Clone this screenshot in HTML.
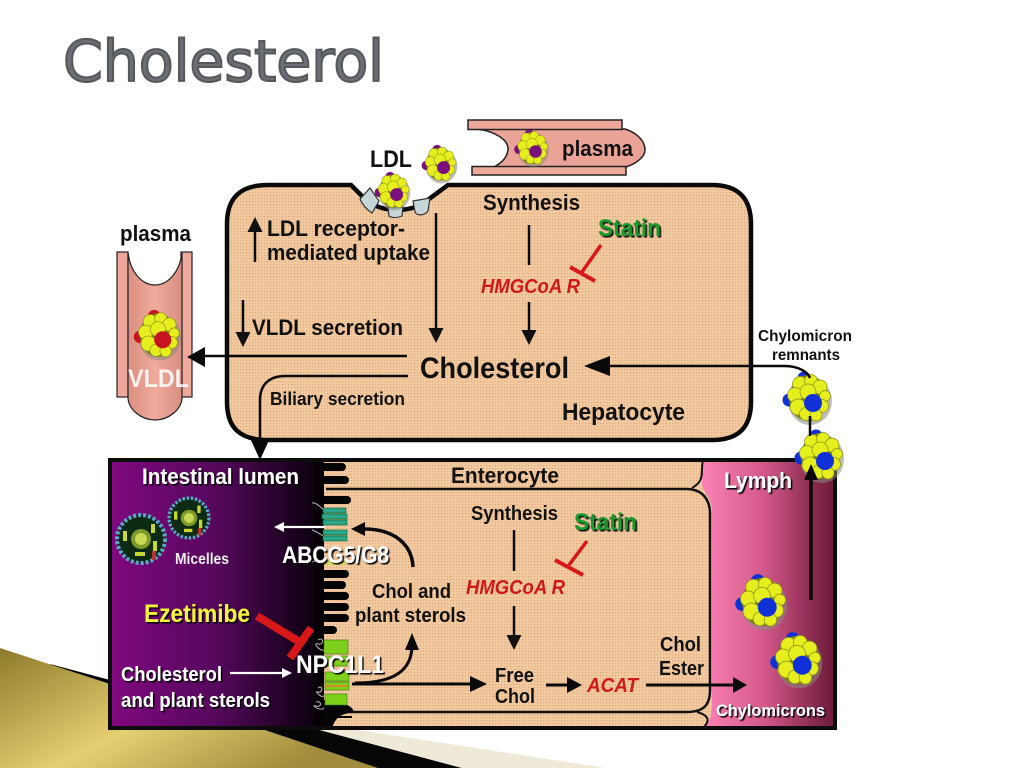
<!DOCTYPE html>
<html><head><meta charset="utf-8"><title>Cholesterol</title>
<style>
html,body{margin:0;padding:0;background:#fff}
svg{display:block}
text{font-family:"Liberation Sans",sans-serif;font-weight:bold;fill:#111}
.w{fill:#fff}
.r{fill:#d01818;font-style:italic}
.g{fill:#159a2c}
</style></head><body>
<svg width="1024" height="768" viewBox="0 0 1024 768" xmlns="http://www.w3.org/2000/svg">
<defs>
<pattern id="d" width="3" height="3" patternUnits="userSpaceOnUse"><rect width="3" height="3" fill="#f3c99f"/><rect width="1.2" height="1.2" fill="#d9a97c"/></pattern>
<linearGradient id="pur" x1="0" x2="1" y1="0" y2="0"><stop offset="0" stop-color="#80087f"/><stop offset=".5" stop-color="#55085c"/><stop offset="1" stop-color="#050008"/></linearGradient>
<linearGradient id="lym" x1="0" x2="1" y1="0" y2="0"><stop offset="0" stop-color="#fb82b4"/><stop offset=".45" stop-color="#d65a8c"/><stop offset="1" stop-color="#6a1838"/></linearGradient>
<linearGradient id="gold" x1="0" x2="1" y1="0" y2=".6"><stop offset="0" stop-color="#8d7a2a"/><stop offset=".55" stop-color="#e6cf72"/><stop offset="1" stop-color="#a08c3c"/></linearGradient>
<linearGradient id="ves" x1="0" x2="1" y1="0" y2="0"><stop offset="0" stop-color="#d98e80"/><stop offset=".5" stop-color="#f0aa9c"/><stop offset="1" stop-color="#d98e80"/></linearGradient>
<marker id="a" markerWidth="6" markerHeight="6" refX="4" refY="3" orient="auto"><path d="M0 0L6 3L0 6z" fill="#111"/></marker>
<filter id="s" x="-10%" y="-20%" width="125%" height="150%"><feDropShadow dx="1.5" dy="1.5" stdDeviation=".6" flood-color="#000"/></filter>
<g id="p">
<ellipse cx="2" cy="3" rx="22" ry="24" fill="#8a8a80" opacity=".55"/>
<circle cx="-4" cy="-20" r="6.500" fill="currentColor"/><circle cx="-19" cy="2" r="6.500" fill="currentColor"/>
<ellipse cx="0" cy="0" rx="19" ry="23" fill="#7c8214"/>
<g fill="#e6ee1e" stroke="#8a9018" stroke-width=".7">
<circle cx="-8" cy="-14" r="7.500"/><circle cx="3" cy="-17" r="6.500"/><circle cx="12" cy="-11" r="7"/><circle cx="17" cy="-2" r="5.500"/>
<circle cx="-13" cy="-3" r="7.500"/><circle cx="0" cy="-6" r="8"/><circle cx="-10" cy="9" r="8"/><circle cx="14" cy="8" r="6.500"/>
<circle cx="-2" cy="16" r="6.500"/><circle cx="8" cy="17" r="6"/></g>
<circle cx="5" cy="5" r="9" fill="currentColor"/>
</g>
<g id="m">
<circle r="24" fill="#0d2a14" stroke="#58a8c8" stroke-width="4" stroke-dasharray="3 2"/>
<circle r="10" fill="#7f9a2a"/>
<circle r="6" fill="#c8d850"/>
<rect x="-18" y="-8" width="4" height="10" fill="#c8d830"/><rect x="10" y="-15" width="4" height="9" fill="#c8d830"/><rect x="12" y="2" width="4" height="10" fill="#c8d830"/><rect x="-6" y="13" width="10" height="4" fill="#c8d830"/><rect x="11" y="12" width="4" height="9" fill="#c03030"/>
</g>
</defs>

<rect width="1024" height="768" fill="#fff"/>

<!-- Bottom-left decoration -->
<polygon points="50,664 110,680 110,720 262,729 316,729 462,768 200,768" fill="#060606"/>
<polygon points="316,729 352,729 606,768 462,768" fill="#efe9d8"/>
<polygon points="0,648 110,684 262,729 378,768 0,768" fill="url(#gold)"/>

<!-- Title -->
<text x="63" y="81" font-size="57" textLength="321" lengthAdjust="spacing" style="font-family:'DejaVu Sans',sans-serif;font-weight:normal;fill:#6b6f73;stroke:#55585c;stroke-width:2">Cholesterol</text>

<!-- Hepatocyte -->
<path d="M268 185H351L365 199C380 213 410 213 425 202L448 185H712C738 185 751 198 751 224V402C751 428 738 440 712 440H268C240 440 227 428 227 402V224C227 198 240 185 268 185Z" fill="url(#d)" stroke="#0a0a0a" stroke-width="4.5"/>

<!-- Top plasma vessel -->
<path d="M476 129H625C640 134 645 143 645 150C645 156 638 163 626 167H494C503 162 507 157 508 150C509 140 495 131 476 129Z" fill="#eba398" stroke="#222" stroke-width="1.5"/>
<rect x="468" y="120" width="154" height="9.5" fill="#eea89a" stroke="#222" stroke-width="1.5"/>
<rect x="472" y="166.500" width="154" height="8.500" fill="#eea89a" stroke="#222" stroke-width="1.5"/>

<!-- LDL receptors -->
<g fill="#c5d5d8" stroke="#333" stroke-width="1.2">
<path d="M360 199L370 188L379 201L372 213C366 209 362 204 360 199Z"/>
<path d="M388 207H403L402 216C397 218 392 218 389 216Z"/>
<path d="M413 201L430 198L428 211C424 216 417 216 415 212Z"/>
</g>

<!-- Left vessel -->
<rect x="117" y="252" width="11" height="145" fill="#eea89a" stroke="#222" stroke-width="1.2"/>
<rect x="181" y="252" width="11" height="145" fill="#eea89a" stroke="#222" stroke-width="1.2"/>
<path d="M128 252C130 272 142 285 155 285C168 285 180 272 182 252V397C182 410 168 420 155 420C142 420 128 410 128 397Z" fill="url(#ves)" stroke="#222" stroke-width="1.2"/>

<!-- Lumen / lymph panels -->
<rect x="110" y="460" width="725" height="268" fill="url(#d)"/>
<rect x="110" y="460" width="214" height="268" fill="url(#pur)"/>
<path d="M703 460H835V728H703C711 722 712 712 712 700V510C712 497 700 490 702 480Z" fill="url(#lym)"/>

<!-- Enterocyte inner outline -->
<path d="M326 489H686C703 489 710 500 710 514V690C710 706 703 712 686 712H340" fill="none" stroke="#111" stroke-width="2.5"/>
<path d="M703 460C700 472 706 480 692 488" fill="none" stroke="#111" stroke-width="2"/>
<path d="M697 712C711 716 709 722 703 728" fill="none" stroke="#111" stroke-width="2"/>

<!-- Microvilli -->
<g stroke="#050505" stroke-width="8" stroke-linecap="round" fill="none">
<path d="M322 467H342M322 480H345M322 500H347"/>
<path d="M322 574H345M322 585H342M322 596H345M322 607H345M322 618H345M322 630H333"/>
</g>
<rect x="314" y="460" width="10" height="268" fill="#040006"/>
<path d="M324 700C340 702 352 704 354 712C342 714 336 716 332 728H322Z" fill="#050505"/>
<path d="M335 717H352" fill="none" stroke="#000" stroke-width="2"/>

<!-- Transporters -->
<g fill="#2ca58c" stroke="#062" stroke-width=".6">
<rect x="323" y="508" width="23" height="5"/><rect x="322" y="514" width="25" height="5"/><rect x="323" y="520" width="24" height="5"/><rect x="323" y="530" width="24" height="5"/><rect x="323" y="536" width="24" height="5"/>
</g>
<rect x="325" y="560" width="20" height="5" fill="#d4d860"/>
<g fill="#7ed11a" stroke="#3a7a10" stroke-width=".6">
<rect x="324" y="640" width="24" height="14"/><rect x="325" y="656" width="22" height="10"/><rect x="325" y="672" width="24" height="9"/><rect x="325" y="682" width="24" height="8"/><rect x="325" y="694" width="22" height="11"/>
</g>
<rect x="326" y="685" width="22" height="2" fill="#d8882a"/>
<g fill="none" stroke="#bbb" stroke-width="1">
<path d="M318 640c6-4 6 6 0 4s2 8 6 6M318 688c6-4 4 6 0 4s2 6 6 4M316 702c6-2 6 6 0 4s4 6 8 2"/>
<path d="M312 503c4-1 8 4 11 6M312 562c4-2 8-2 12 2M312 530c4 1 8 4 11 6"/>
</g>

<!-- Border -->
<rect x="110" y="460" width="725" height="268" fill="none" stroke="#0c0c0c" stroke-width="4"/>

<!-- Particles -->
<use href="#p" style="color:#7a107c" transform="translate(393 191) scale(.72)"/>
<use href="#p" style="color:#7a107c" transform="translate(440 164) scale(.72)"/>
<use href="#p" style="color:#7a107c" transform="translate(532 148) scale(.7)"/>
<use href="#p" style="color:#c81420" transform="translate(158 335) scale(.95)"/>
<use href="#p" style="color:#1030d8" transform="translate(808 398)"/>
<use href="#p" style="color:#1030d8" transform="translate(820 456)"/>
<use href="#p" style="color:#1030d8" transform="translate(762 602) scale(1.05)"/>
<use href="#p" style="color:#1030d8" transform="translate(797 660) scale(1.05)"/>
<use href="#m" transform="translate(141 539)"/>
<use href="#m" transform="translate(189 518) scale(.83)"/>

<!-- Connectors -->
<g fill="none" stroke="#0a0a0a" stroke-width="2.5">
<path d="M255 262V222" marker-end="url(#a)"/>
<path d="M243 300V342" marker-end="url(#a)"/>
<path d="M436 213V338" marker-end="url(#a)"/>
<path d="M529 225V265"/>
<path d="M529 302V340" marker-end="url(#a)"/>
<path d="M407 356H205"/>
<path d="M408 376H285C268 376 260 386 260 400V442"/>
<path d="M810 378C808 372 798 366 785 366H602"/>
<path d="M811 600V478" stroke-width="3.500"/>
<path d="M514 530V571"/>
<path d="M514 606V645" marker-end="url(#a)"/>
<path d="M352 684H472" stroke-width="3"/>
<path d="M355 683C395 683 412 670 412 645" stroke-width="3"/>
<path d="M413 567C412 545 395 529 364 529" stroke-width="3.500"/>
<path d="M546 685H572" stroke-width="3"/>
<path d="M646 685H736" stroke-width="3"/>
</g>
<g fill="#0a0a0a">
<path d="M187 357L205 347V367Z"/>
<path d="M260 460L250 438H270Z"/>
<path d="M584 366L610 356V376Z"/>
<path d="M811 464L804 480H818Z"/>
<path d="M412 633L405 650H419Z"/>
<path d="M351 529L365 522V536Z"/>
<path d="M487 684L470 676V692Z"/>
<path d="M582 685L567 677V693Z"/>
<path d="M747 685L733 677V693Z"/>
</g>
<path d="M810 416V436" fill="none" stroke="#0a0a0a" stroke-width="2.500"/>
<g fill="none" stroke="#fff" stroke-width="2.2">
<path d="M325 527H282"/><path d="M230 673H284"/>
</g>
<g fill="#fff"><path d="M274 527L284 522V532Z"/><path d="M292 673L282 668V678Z"/></g>

<!-- Inhibitors -->
<g fill="none" stroke="#d81818" stroke-linecap="butt">
<path d="M601 245L582 272" stroke-width="3.500"/><path d="M570 267L595 281" stroke-width="4"/>
<path d="M587 541L569 565" stroke-width="3.500"/><path d="M555 560L583 575" stroke-width="4"/>
<path d="M257 616L303 644" stroke-width="8"/><path d="M311 628L290 658" stroke-width="8"/>
</g>

<!-- Labels -->
<text x="370" y="167" font-size="24" textLength="42" lengthAdjust="spacingAndGlyphs">LDL</text>
<text x="562" y="156" font-size="22" textLength="71" lengthAdjust="spacingAndGlyphs">plasma</text>
<text x="483" y="210" font-size="22" textLength="97" lengthAdjust="spacingAndGlyphs">Synthesis</text>
<text class="g" x="598" y="236" font-size="24" textLength="63" lengthAdjust="spacingAndGlyphs" filter="url(#s)">Statin</text>
<text x="267" y="236" font-size="22" textLength="138" lengthAdjust="spacingAndGlyphs">LDL receptor-</text>
<text x="267" y="260" font-size="22" textLength="163" lengthAdjust="spacingAndGlyphs">mediated uptake</text>
<text class="r" x="481" y="293" font-size="20" textLength="99" lengthAdjust="spacingAndGlyphs">HMGCoA R</text>
<text x="252" y="335" font-size="22" textLength="151" lengthAdjust="spacingAndGlyphs">VLDL secretion</text>
<text x="120" y="241" font-size="22" textLength="71" lengthAdjust="spacingAndGlyphs">plasma</text>
<text x="128" y="387" font-size="25" textLength="61" lengthAdjust="spacingAndGlyphs" style="fill:#fff;fill-opacity:.85">VLDL</text>
<text x="420" y="378" font-size="30" textLength="149" lengthAdjust="spacingAndGlyphs">Cholesterol</text>
<text x="562" y="420" font-size="24" textLength="123" lengthAdjust="spacingAndGlyphs">Hepatocyte</text>
<text x="270" y="405" font-size="18" textLength="135" lengthAdjust="spacingAndGlyphs">Biliary secretion</text>
<text x="758" y="341" font-size="16" textLength="94" lengthAdjust="spacingAndGlyphs">Chylomicron</text>
<text x="772" y="360" font-size="16" textLength="68" lengthAdjust="spacingAndGlyphs">remnants</text>
<text class="w" x="142" y="484" font-size="22" textLength="157" lengthAdjust="spacingAndGlyphs" filter="url(#s)">Intestinal lumen</text>
<text x="451" y="483" font-size="22" textLength="108" lengthAdjust="spacingAndGlyphs">Enterocyte</text>
<text class="w" x="724" y="488" font-size="22" textLength="68" lengthAdjust="spacingAndGlyphs" filter="url(#s)">Lymph</text>
<text class="w" x="175" y="564" font-size="16" textLength="54" lengthAdjust="spacingAndGlyphs" style="fill:#eee">Micelles</text>
<text class="w" x="282" y="563" font-size="24" textLength="107" lengthAdjust="spacingAndGlyphs" filter="url(#s)">ABCG5/G8</text>
<text x="471" y="520" font-size="20" textLength="87" lengthAdjust="spacingAndGlyphs">Synthesis</text>
<text class="g" x="574" y="530" font-size="24" textLength="63" lengthAdjust="spacingAndGlyphs" filter="url(#s)">Statin</text>
<text class="r" x="466" y="594" font-size="20" textLength="99" lengthAdjust="spacingAndGlyphs">HMGCoA R</text>
<text x="372" y="598" font-size="20" textLength="79" lengthAdjust="spacingAndGlyphs">Chol and</text>
<text x="355" y="622" font-size="20" textLength="111" lengthAdjust="spacingAndGlyphs">plant sterols</text>
<text x="144" y="622" font-size="25" textLength="106" lengthAdjust="spacingAndGlyphs" style="fill:#f4f43c" filter="url(#s)">Ezetimibe</text>
<text class="w" x="121" y="681" font-size="20" textLength="101" lengthAdjust="spacingAndGlyphs" filter="url(#s)">Cholesterol</text>
<text class="w" x="121" y="707" font-size="20" textLength="149" lengthAdjust="spacingAndGlyphs" filter="url(#s)">and plant sterols</text>
<text class="w" x="296" y="673" font-size="25" textLength="88" lengthAdjust="spacingAndGlyphs" filter="url(#s)">NPC1L1</text>
<text x="495" y="682" font-size="20" textLength="39" lengthAdjust="spacingAndGlyphs">Free</text>
<text x="495" y="703" font-size="20" textLength="40" lengthAdjust="spacingAndGlyphs">Chol</text>
<text class="r" x="587" y="692" font-size="20" textLength="51" lengthAdjust="spacingAndGlyphs">ACAT</text>
<text x="660" y="651" font-size="20" textLength="41" lengthAdjust="spacingAndGlyphs">Chol</text>
<text x="659" y="675" font-size="20" textLength="45" lengthAdjust="spacingAndGlyphs">Ester</text>
<text class="w" x="716" y="716" font-size="17" textLength="109" lengthAdjust="spacingAndGlyphs" filter="url(#s)">Chylomicrons</text>
</svg>
</body></html>
